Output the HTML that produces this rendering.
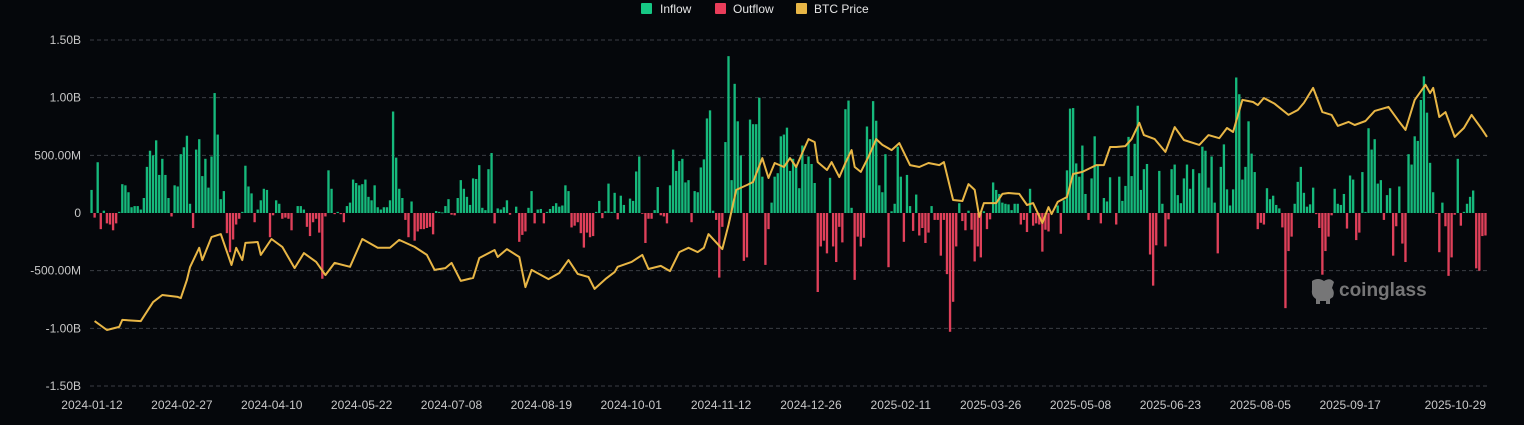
<!DOCTYPE html>
<html><head><meta charset="utf-8">
<style>
html,body{margin:0;padding:0;background:#05070b;}
body{width:1524px;height:420px;overflow:hidden;font-family:"Liberation Sans",sans-serif;}
svg text{font-family:"Liberation Sans",sans-serif;}
</style></head>
<body>
<svg id="chart" width="1524" height="420" xmlns="http://www.w3.org/2000/svg">
  <rect x="0" y="0" width="1524" height="420" fill="#05070b"/>
  <g>
    <g><rect x="641" y="3" width="11" height="11" rx="1" fill="#16c784"/><text x="660" y="13" fill="#e6e6e6" font-size="12">Inflow</text></g>
    <g><rect x="715" y="3" width="11" height="11" rx="1" fill="#ea3d5a"/><text x="733" y="13" fill="#e6e6e6" font-size="12">Outflow</text></g>
    <g><rect x="796" y="3" width="11" height="11" rx="1" fill="#e8b646"/><text x="814" y="13" fill="#e6e6e6" font-size="12">BTC Price</text></g>
  </g>
  <g id="grid"></g>
  <g id="yaxis"></g>
  <g id="xaxis"></g>
  <g id="bars"></g>
  <path id="price" fill="none" stroke="#e8b646" stroke-width="2" stroke-linejoin="round"/>
  <g opacity="0.85">
    <path d="M1312 281 q6 -4 12 0 q6 -4 10 1 l-2 6 q3 4 1 9 l-3 2 v5 h-4 v-3 h-6 v3 h-4 v-5 q-5 -3 -4 -9 z" fill="#8a8a8a"/>
    <text x="1339" y="296" fill="#8a8a8a" font-size="19" font-weight="bold">coinglass</text>
  </g>
</svg>
<script>
const flows = [
200,-40,440,-140,20,-90,-100,-150,-90,10,
250,240,180,50,60,60,30,130,400,540,
500,630,330,470,330,130,-30,240,230,510,
570,670,80,-130,550,640,320,470,220,490,
1040,680,120,190,-175,-340,-230,-100,-50,10,
410,230,170,-80,30,110,210,200,-210,-20,
110,80,-50,-40,-50,-150,0,60,60,30,
-120,-200,-80,-50,-170,-570,-30,370,210,-10,
10,-10,-80,60,90,290,260,240,250,290,
140,110,240,50,30,50,50,110,880,480,
210,130,-60,-210,100,-240,-160,-140,-140,-130,
-120,-185,
17,10,5,60,120,-15,-20,130,285,210,
140,70,300,295,415,45,25,380,520,-90,
40,30,50,110,-15,0,55,-250,-190,-160,
45,190,-90,30,35,-90,10,35,60,85,
55,65,240,190,-125,-110,-80,-175,-300,-170,
-210,-200,10,105,-45,15,255,10,175,-55,
150,70,0,125,105,360,490,-5,-260,-50,
-50,25,225,-20,-30,-90,240,550,365,450,
470,265,285,-80,190,180,395,465,820,890,
20,-60,-560,-120,615,1360,285,1120,795,500,
-415,-385,810,770,770,1000,315,-450,-140,90,
315,345,665,680,740,365,470,405,215,585,
425,490,425,260,-685,-290,-240,-350,305,-290,
-425,-120,-255,900,975,45,-580,-205,-290,-215,
750,640,970,800,240,180,510,-470,15,80,
575,315,-250,330,60,-155,160,-195,-130,-260,
-170,60,-60,-60,-370,-60,-530,-1030,-770,-290,
85,-70,-150,20,-145,-420,-290,-385,15,-140,
-55,265,200,165,90,80,75,25,80,80,
-100,-60,-165,210,-110,-90,-100,-335,-145,-160,
0,0,65,-180,110,370,905,910,430,315,
585,165,-60,300,665,420,-90,130,100,310,
0,-100,
315,105,235,660,320,600,930,200,380,425,
-360,-630,-280,365,80,-290,-55,380,420,155,
85,300,420,210,380,0,345,575,540,220,
490,90,-350,400,595,205,65,205,1175,1030,
290,400,795,515,355,-140,-85,-100,215,120,
150,70,40,-125,-825,-330,-205,80,270,400,
175,55,75,220,-10,-130,-535,-330,-205,-20,
210,80,70,165,-135,325,290,-235,-170,355,
10,735,550,640,255,285,-60,155,215,-370,
-115,230,-265,-425,510,420,665,625,980,1185,
870,435,180,-5,-340,90,-115,-545,-385,-15,
470,-110,10,80,140,195,-480,-500,-200,-195
];
const priceDay = [1,5,9,10,16,20,23,28,29,31,32,35,36,39,42,45.5,47,49,50,54,55,58.5,62,66,69,73,76,79,84,88,93,97,100,105,109,111.5,115,117,120,124,126,131,132,135,139,141,143,148.5,152,155,158,161.5,163.5,167,170,171,175.5,179,181,185,188,191,194,197,199,200.5,205,207,209.5,213,215,218,220,222,225,227,229,231,233,235,236,239,240.5,243,245,247,248,250,252.5,255,257,260,262.5,266,269,272,275.5,277,280,283,285,287,288.5,290,294,296,298,301.5,304,306,309,311,312,314,317,319,322,326.5,329,331,333,336,338,340.5,342,345.5,349,352,355,360,363,366.5,369,371,374,377.5,379,381,384.5,389,392,394,397,400,403,405,408.5,410.5,414,417,421.5,425,427,430,433.5,435,436,438,440,443,446,448.5,452,453.5];
const priceK = [46.3,43.4,44.4,46.7,46.3,52.5,54.8,54.2,53.8,59.7,63.9,70.2,66.2,73.7,74.7,64.6,70.2,66.2,71.8,72.1,67.9,73.1,70.5,63.6,68.5,65.6,61.3,65.3,64.0,73.1,70.2,70.2,72.8,70.5,67.9,63.0,63.6,65.3,59.4,60.4,66.9,69.5,67.2,69.8,67.2,57.4,63.0,60.0,62.0,66.2,61.7,60.7,56.8,60.0,62.3,64.0,65.6,67.9,63.3,64.3,62.6,68.8,70.2,68.8,70.2,74.7,69.8,77.7,89.1,90.7,91.7,99.5,93.0,97.9,96.6,99.5,96.6,101.2,105.7,104.7,98.2,95.6,98.2,93.3,97.9,102.1,96.6,95.0,99.9,105.7,103.8,102.1,104.4,97.2,96.6,97.9,97.2,98.2,85.8,85.5,91.0,89.1,80.3,84.8,84.8,87.8,88.1,87.8,84.2,84.8,78.3,83.5,81.2,85.2,86.8,94.3,95.0,97.2,97.2,103.1,103.1,103.4,105.7,111.0,107.0,105.7,101.5,109.6,105.4,103.8,107.0,106.0,109.3,108.0,118.5,117.8,116.8,119.1,117.2,113.6,115.2,117.5,122.4,114.5,113.6,110.0,111.3,110.3,111.6,114.9,116.2,111.3,108.7,118.5,123.4,120.7,122.4,112.9,114.5,106.4,109.3,113.6,108.7,106.4];
const yTicks = [1500,1000,500,0,-500,-1000,-1500];
const yTickLabels = ["1.50B","1.00B","500.00M","0","-500.00M","-1.00B","-1.50B"];
const xTickLabels = ["2024-01-12","2024-02-27","2024-04-10","2024-05-22","2024-07-08","2024-08-19","2024-10-01","2024-11-12","2024-12-26","2025-02-11","2025-03-26","2025-05-08","2025-06-23","2025-08-05","2025-09-17","2025-10-29"];

const NS = "http://www.w3.org/2000/svg";
const L = 90, R = 1487, T = 40, B = 386;
const N = flows.length;
const slot = (R - L) / N;
const x = i => L + (i + 0.5) * slot;
const y = v => 213 - v * (B - T) / 3000;
const yP = p => 322 - (p - 46) * (322 - 83) / (124 - 46);

const grid = document.getElementById('grid');
const yaxis = document.getElementById('yaxis');
yTicks.forEach((t, k) => {
  const yy = y(t);
  if (t !== 0) {
    const ln = document.createElementNS(NS, 'line');
    ln.setAttribute('x1', L); ln.setAttribute('x2', R);
    ln.setAttribute('y1', yy); ln.setAttribute('y2', yy);
    ln.setAttribute('stroke', '#3a3d44'); ln.setAttribute('stroke-dasharray', '4 3');
    
    
    grid.appendChild(ln);
  }
  const tx = document.createElementNS(NS, 'text');
  tx.setAttribute('x', 81); tx.setAttribute('y', yy + 4);
  tx.setAttribute('text-anchor', 'end'); tx.setAttribute('fill', '#c8c8c8'); tx.setAttribute('font-size', '12');
  tx.textContent = yTickLabels[k];
  
  
  yaxis.appendChild(tx);
});

const xaxis = document.getElementById('xaxis');
xTickLabels.forEach((s, k) => {
  const xx = 92 + k * (1440 - 92) / (xTickLabels.length - 1);
  const tx = document.createElementNS(NS, 'text');
  tx.setAttribute('x', k === xTickLabels.length - 1 ? 1486 : xx);
  tx.setAttribute('y', 409);
  tx.setAttribute('text-anchor', k === xTickLabels.length - 1 ? 'end' : 'middle');
  tx.setAttribute('fill', '#c8c8c8'); tx.setAttribute('font-size', '12');
  tx.textContent = s;
  
  
  xaxis.appendChild(tx);
});

const bars = document.getElementById('bars');
flows.forEach((v, i) => {
  if (v === 0) return;
  const r = document.createElementNS(NS, 'rect');
  const y0 = y(0), y1 = y(v);
  r.setAttribute('x', (x(i) - slot * 0.38).toFixed(2));
  r.setAttribute('width', (slot * 0.76).toFixed(2));
  r.setAttribute('y', Math.min(y0, y1).toFixed(2));
  r.setAttribute('height', Math.max(0.8, Math.abs(y1 - y0)).toFixed(2));
  r.setAttribute('fill', v > 0 ? '#16b97c' : '#e0405a');
  
  
  bars.appendChild(r);
});

let d = '';
priceDay.forEach((t, k) => {
  d += (k ? 'L' : 'M') + x(t).toFixed(1) + ' ' + yP(priceK[k]).toFixed(1) + ' ';
});
document.getElementById('price').setAttribute('d', d);
</script>
</body></html>
